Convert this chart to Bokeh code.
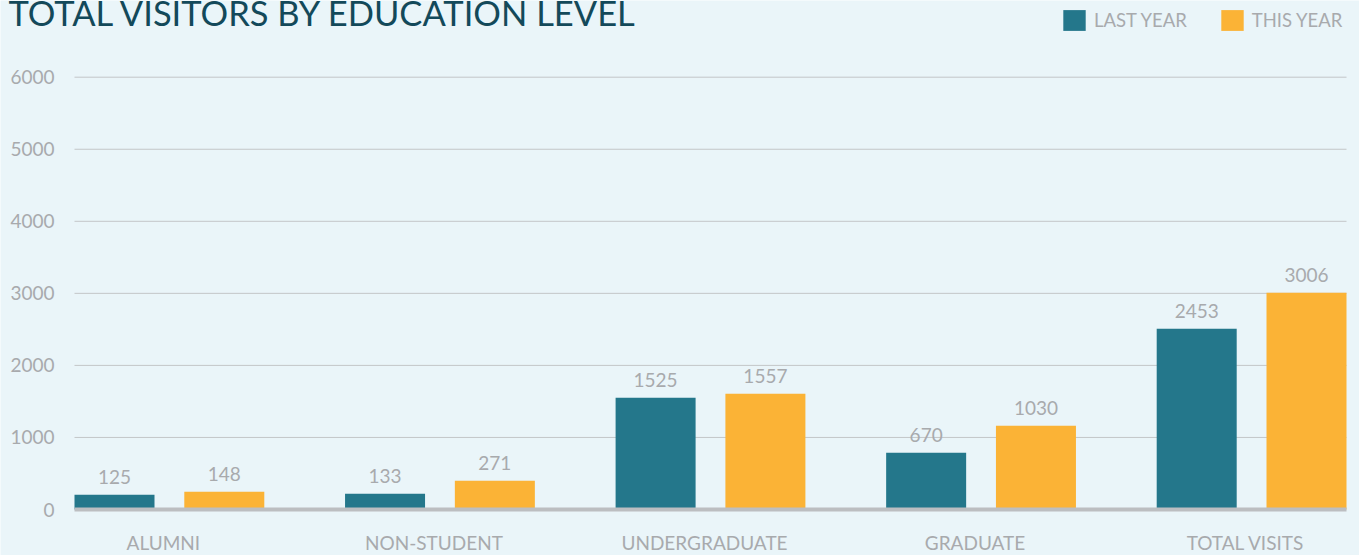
from bokeh.plotting import figure
from bokeh.models import (ColumnDataSource, Range1d, LabelSet, Label, Legend, LegendItem)
from bokeh.core.properties import value
from bokeh.embed import file_html
from bokeh.resources import INLINE

# ---- data ----
categories = ["ALUMNI", "NON-STUDENT", "UNDERGRADUATE", "GRADUATE", "TOTAL VISITS"]
series_names = ["LAST YEAR", "THIS YEAR"]
last_year = [125, 133, 1525, 670, 2453]          # printed values
this_year = [148, 271, 1557, 1030, 3006]         # printed values
# bar heights as drawn in the reference (they differ slightly from printed values)
last_year_bar = [204, 218, 1551, 787, 2510]
this_year_bar = [246, 399, 1607, 1162, 3010]
y_ticks = [0, 1000, 2000, 3000, 4000, 5000, 6000]
title_text = "TOTAL VISITORS BY EDUCATION LEVEL"

# ---- style ----
BG = "#eaf5f9"
TEAL = "#24778b"
GOLD = "#fbb336"
GREY = "#a8aaad"
GRID = "#c3c6c8"
BASE = "#bcbec1"
TITLE_C = "#13495a"
FONT = "Lato"

# ---- layout (pixels) ----
W, H = 1359, 555
left_px, right_px = 74, 1346     # plot area
zero_px, top_px = 509, 76.7      # y pixel of 0 and of the top tick
bar_px, off_px = 80, 54.9        # bar width, bar centre offset from group centre

n = len(categories)
idx = list(range(n))
step_px = (right_px - left_px - bar_px - 2 * off_px) / (n - 1)
off = off_px / step_px
bw = bar_px / step_px
x_lo = -off - bw / 2
x_hi = (n - 1) + off + bw / 2
k = (zero_px - top_px) / y_ticks[-1]

p = figure(width=W, height=H, output_backend="svg", toolbar_location=None,
           x_range=Range1d(x_lo - left_px / step_px, x_hi + (W - right_px) / step_px),
           y_range=Range1d(-(H - zero_px) / k, zero_px / k),
           min_border_left=0, min_border_right=0, min_border_top=0, min_border_bottom=0)
p.background_fill_color = BG
p.border_fill_color = BG
p.outline_line_color = None
p.xaxis.visible = False
p.yaxis.visible = False
p.xgrid.visible = False
p.ygrid.visible = False

# horizontal grid lines
grid_src = ColumnDataSource(dict(y=y_ticks[1:]))
p.segment(x0=x_lo, x1=x_hi, y0="y", y1="y", source=grid_src,
          line_color=GRID, line_width=1)

src = ColumnDataSource(dict(
    x_last=[i - off for i in idx],
    x_this=[i + off for i in idx],
    h_last=last_year_bar,
    h_this=this_year_bar,
    lab_last=[str(v) for v in last_year],
    lab_this=[str(v) for v in this_year],
))

r1 = p.vbar(x="x_last", top="h_last", width=bw, bottom=0, source=src,
            fill_color=TEAL, line_color=None)
r2 = p.vbar(x="x_this", top="h_this", width=bw, bottom=0, source=src,
            fill_color=GOLD, line_color=None)

# baseline
base_src = ColumnDataSource(dict(y=y_ticks[:1]))
p.segment(x0=x_lo, x1=x_hi, y0="y", y1="y", source=base_src,
          line_color=BASE, line_width=4)

# y tick labels
tick_src = ColumnDataSource(dict(x=[x_lo] * len(y_ticks), y=y_ticks,
                                 t=[str(t) for t in y_ticks]))
p.add_layout(LabelSet(x="x", y="y", text="t", source=tick_src, x_offset=-20,
                      text_align="right", text_baseline="middle",
                      text_font=value(FONT), text_font_size="19px", text_color=GREY))

# value labels
for xf, yf, tf in (("x_last", "h_last", "lab_last"), ("x_this", "h_this", "lab_this")):
    p.add_layout(LabelSet(x=xf, y=yf, text=tf, source=src, y_offset=11,
                          text_align="center", text_baseline="alphabetic",
                          text_font=value(FONT), text_font_size="19px",
                          text_color=GREY))

# category labels
cat_src = ColumnDataSource(dict(x=idx, y=[0] * n, t=categories))
p.add_layout(LabelSet(x="x", y="y", text="t", source=cat_src, y_offset=-40, x_offset=-6,
                      text_align="center", text_baseline="alphabetic",
                      text_font=value(FONT), text_font_size="19px", text_color=GREY))

# title (top of the letters is cut by the page edge, as in the reference)
p.add_layout(Label(x=8, y=H - 12, x_units="screen", y_units="screen", text=title_text,
                   text_font=FONT, text_font_size="34.5px", text_color=TITLE_C,
                   text_baseline="alphabetic", text_align="left"))

legend = Legend(items=[LegendItem(label=series_names[0], renderers=[r1]),
                       LegendItem(label=series_names[1], renderers=[r2])],
                orientation="horizontal", location=(1060, H - 33),
                margin=0, padding=0, spacing=31,
                glyph_width=28, glyph_height=26, label_standoff=6,
                label_text_font=FONT, label_text_font_size="18.5px",
                label_text_color=GREY,
                background_fill_alpha=0, border_line_color=None)
p.add_layout(legend)

open("out.html", "w").write(file_html(p, INLINE))
